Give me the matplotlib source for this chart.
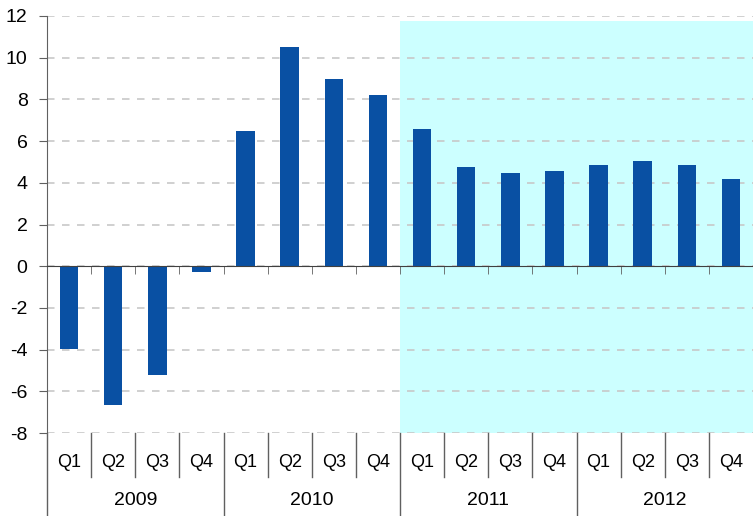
import matplotlib
matplotlib.use("Agg")
import matplotlib.pyplot as plt
import matplotlib.transforms as mtransforms
import numpy as np

years = ["2009", "2010", "2011", "2012"]
quarters = ["Q1", "Q2", "Q3", "Q4"]
values = [-3.98, -6.65, -5.2, -0.3,
          6.47, 10.5, 8.97, 8.2,
          6.57, 4.75, 4.46, 4.56,
          4.84, 5.04, 4.84, 4.17]
shade_from = 8        # first shaded quarter (2011 Q1)
shade_top = 11.75

plt.rcParams['font.family'] = ['Liberation Sans', 'DejaVu Sans']
plt.rcParams['font.size'] = 13
plt.rcParams['axes.unicode_minus'] = False

fig = plt.figure(figsize=(7.53, 5.16), dpi=100)
ax = fig.add_axes([47 / 753, 1 - 433 / 516, 706 / 753, 417 / 516])

n = len(values)
x = np.arange(n)
ax.set_xlim(-0.5, n - 0.5)
ax.set_ylim(-8, 12)

ax.axvspan(shade_from - 0.5, n - 0.5, ymin=0, ymax=(shade_top + 8) / 20,
           color='#CCFFFF', lw=0, zorder=0)
ax.set_yticks(np.arange(-8, 13, 2))
ax.yaxis.grid(True, color='#C8C8C8', lw=1.2, dashes=(4.5, 4.5), zorder=1)
ax.set_axisbelow(True)

ax.bar(x, values, width=0.42, color='#0950A3', zorder=3)

for s in ['top', 'right']:
    ax.spines[s].set_visible(False)
ax.spines['bottom'].set_position(('data', 0))
ax.spines['bottom'].set_color('#404040')
ax.spines['bottom'].set_zorder(4)
ax.spines['left'].set_color('#606060')
ax.set_xticks([])
ax.set_xticks(np.arange(0.5, n - 1, 1), minor=True)
ax.tick_params(axis='x', which='minor', length=6, color='#606060', labelbottom=False)
ax.tick_params(axis='y', length=6, color='#606060', pad=8, labelsize=14)

trans = mtransforms.blended_transform_factory(ax.transData, ax.transAxes)
for i in range(n):
    ax.text(i, -0.07, quarters[i % 4], transform=trans, ha='center', va='center')
    if i % 4 == 0:
        ax.plot([i - 0.5, i - 0.5], [0, -0.2], transform=trans, color='#606060',
                lw=1, clip_on=False)
        ax.text(i + 1.5, -0.162, years[i // 4], transform=trans, ha='center',
                va='center', fontsize=14)
    else:
        ax.plot([i - 0.5, i - 0.5], [0, -0.106], transform=trans, color='#606060',
                lw=1, clip_on=False)

fig.savefig("out.png", dpi=100)
